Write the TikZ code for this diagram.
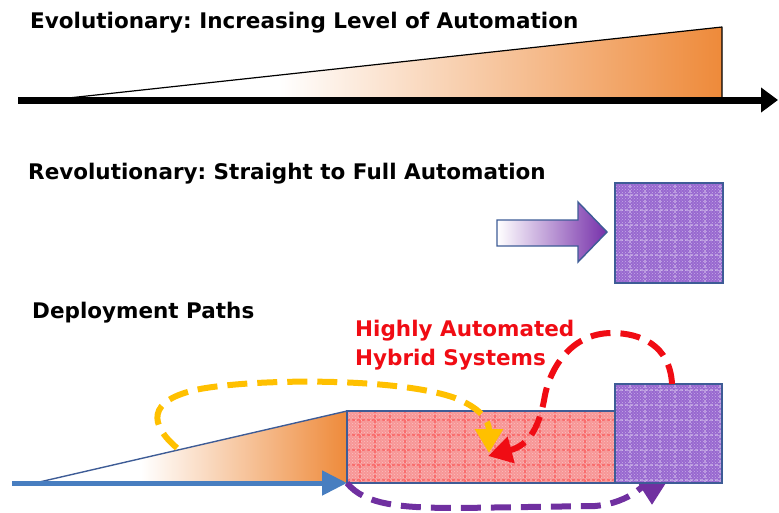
\documentclass[tikz,border=0pt]{standalone}
\usepackage{fontspec}
\newfontfamily\headfont{DejaVu Sans}
\usetikzlibrary{arrows.meta,patterns}
\frenchspacing

\definecolor{rampor}{RGB}{238,138,58}
\definecolor{autopurple}{RGB}{152,104,208}
\definecolor{arrowpurple}{RGB}{118,48,170}
\definecolor{hybridred}{RGB}{247,150,150}
\definecolor{edgeblue}{RGB}{62,92,150}
\definecolor{pathblue}{RGB}{72,126,192}
\definecolor{pathyellow}{RGB}{255,192,0}
\definecolor{pathred}{RGB}{240,12,20}
\definecolor{pathpurple}{RGB}{112,48,160}

\pgfdeclarehorizontalshading{ramp}{100bp}{color(0bp)=(white); color(25bp)=(white);
  color(42bp)=(white); color(75bp)=(rampor); color(100bp)=(rampor)}

\tikzset{
  heading/.style={anchor=base west, inner sep=0pt, font=\headfont\bfseries\fontsize{21.5}{25}\selectfont},
  hybridtext/.style={heading, text=pathred},
  texture/.style={path picture={\draw[#1, line width=2.5pt, opacity=0.5, dash pattern=on 3pt off 2pt, step=15pt]
    (path picture bounding box.south west) grid (path picture bounding box.north east);}},
  autobox/.style={draw=edgeblue, line width=1.4pt, preaction={fill=autopurple},
    pattern=crosshatch dots, pattern color=white!45!autopurple, texture=white!65!autopurple},
  hybridbox/.style={draw=edgeblue, line width=1.4pt, preaction={fill=hybridred},
    pattern=crosshatch dots, pattern color=white!40!hybridred, texture=red!55!hybridred},
  dashpath/.style={line width=6pt, dash pattern=on 20pt off 10pt},
}

\begin{document}
\begin{tikzpicture}[x=1pt,y=-1pt]
\useasboundingbox (0,0) rectangle (779,512);

% evolutionary
\node[heading] (evo) at (30,28) {Evolutionary: Increasing Level of Automation};
\coordinate (e0) at (18,100);
\coordinate (e1) at (778,100);
\coordinate (r0) at (50,100);
\coordinate (r1) at (722,27);
\coordinate (r2) at (722,100);
\shade[shading=ramp] (r0) -- (r1) -- (r2) -- cycle;
\draw[line width=1.2pt, line join=round] (r0) -- (r1) -- (r2);
\draw[line width=7pt, -{Triangle[length=17pt,width=24pt]}] (e0) -- (e1);

% revolutionary
\node[heading] (rev) at (28,179) {Revolutionary: Straight to Full Automation};
\draw[draw=edgeblue, line width=1.4pt, left color=white, right color=arrowpurple]
  (497,220) -- (578,220) -- (578,202) -- (607,232) -- (578,262) -- (578,246) -- (497,246) -- cycle;
\draw[autobox] (615,183) rectangle (723,283);

% deployment paths
\node[heading] (dep) at (32,318) {Deployment Paths};
\node[hybridtext] (hy1) at (355,336) {Highly Automated};
\node[hybridtext] (hy2) at (355,365) {Hybrid Systems};

\coordinate (b0) at (12,483);
\coordinate (t0) at (35,483);
\coordinate (t1) at (347,411);
\coordinate (t2) at (347,483);
\shade[shading=ramp] (t0) -- (t1) -- (t2) -- cycle;
\draw[edgeblue, line width=1.4pt] (t0) -- (t1);
\draw[hybridbox] (347,411) rectangle (615,483);

% path to full automation (drawn under the box)
\coordinate (pe) at (652,505);
\draw[pathpurple, dashpath, -{Triangle[length=21pt,width=25pt]}]
  (t2) .. controls (365,505) and (400,508) .. (460,508) -- (595,506)
  .. controls (630,503) and (652,482) .. (652,470) -- (pe);
\draw[autobox] (615,384) rectangle (722,483);

\draw[pathblue, line width=5pt, -{Triangle[length=25pt,width=24pt]}] (b0) -- (t2);

% paths into the hybrid systems
\coordinate (ys) at (177,448);
\coordinate (ye) at (489,453);
\coordinate (rs) at (672,384);
\coordinate (re) at (488,456);
\draw[pathyellow, dashpath, -{Triangle[length=24pt,width=27pt]}]
  (ys) .. controls (150,425) and (145,400) .. (200,389)
  .. controls (260,378) and (400,378) .. (455,398)
  .. controls (480,408) and (489,420) .. (ye);
\draw[pathred, dashpath, -{Triangle[length=24pt,width=26pt]}]
  (rs) .. controls (670,345) and (640,333) .. (612,333)
  .. controls (570,333) and (550,370) .. (545,395)
  .. controls (540,425) and (530,445) .. (re);

\end{tikzpicture}
\end{document}
